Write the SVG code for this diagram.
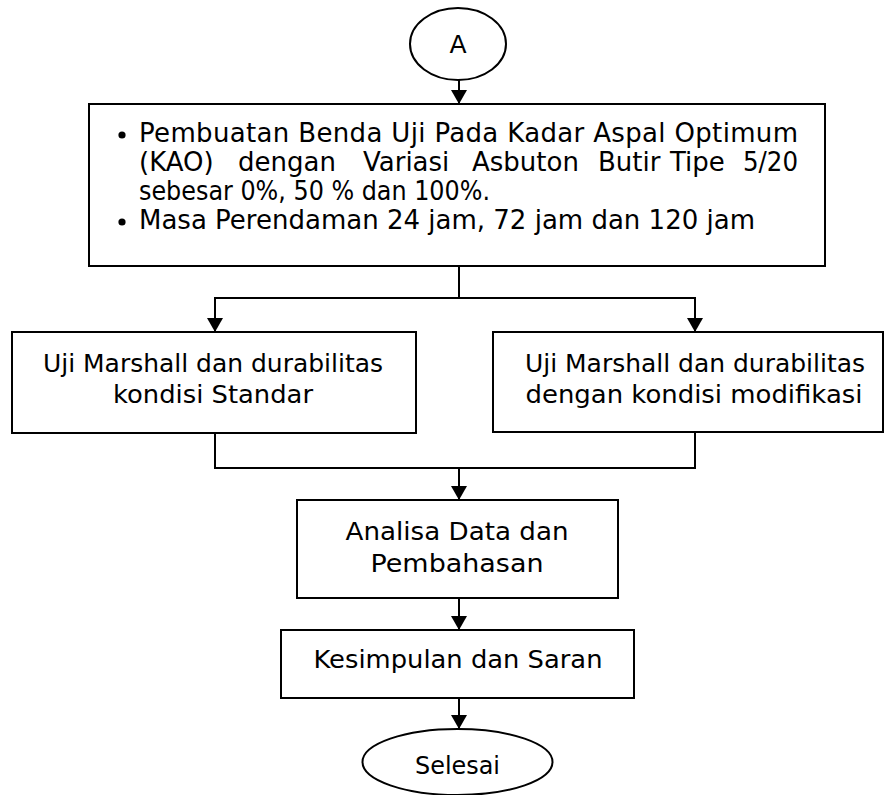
<svg xmlns="http://www.w3.org/2000/svg" width="887" height="795" viewBox="0 0 887 795">
<style>
  .box{fill:#fff;stroke:#000;stroke-width:2}
  .ln{fill:none;stroke:#000;stroke-width:2}
  text{font-family:"DejaVu Sans","Liberation Sans",sans-serif;fill:#000}
  .t{font-size:25px;text-anchor:middle}
  .m{font-size:26px}
</style>
<defs>
  <marker id="ah" markerUnits="userSpaceOnUse" markerWidth="14" markerHeight="16" refX="14" refY="8" orient="auto">
    <path d="M0,0 L14,8 L0,16 Z" fill="#000"/>
  </marker>
</defs>
<rect width="887" height="795" fill="#fff"/>
<g id="connectors">
  <line class="ln" x1="459" y1="80" x2="459" y2="104" marker-end="url(#ah)"/>
  <polyline class="ln" points="459,266 459,298"/>
  <polyline class="ln" points="459,298 215,298 215,332" marker-end="url(#ah)"/>
  <polyline class="ln" points="459,298 695,298 695,332" marker-end="url(#ah)"/>
  <polyline class="ln" points="215,433 215,468 695,468 695,432"/>
  <line class="ln" x1="459" y1="468" x2="459" y2="500" marker-end="url(#ah)"/>
  <line class="ln" x1="459" y1="598" x2="459" y2="630" marker-end="url(#ah)"/>
  <line class="ln" x1="459" y1="698" x2="459" y2="729" marker-end="url(#ah)"/>
</g>
<g id="start">
  <ellipse class="box" cx="458" cy="44" rx="48" ry="36"/>
  <text class="t" x="458" y="53" style="font-size:25px">A</text>
</g>
<g id="main">
  <rect class="box" x="89" y="104" width="736" height="162"/>
  <circle cx="122" cy="135" r="3.6" fill="#000"/>
  <circle cx="122" cy="222" r="3.6" fill="#000"/>
  <text class="m" x="139" y="142" textLength="659" lengthAdjust="spacing">Pembuatan Benda Uji Pada Kadar Aspal Optimum</text>
  <text class="m" x="139" y="171">(KAO)</text>
  <text class="m" x="238" y="171">dengan</text>
  <text class="m" x="363" y="171">Variasi</text>
  <text class="m" x="472" y="171">Asbuton</text>
  <text class="m" x="598" y="171">Butir</text>
  <text class="m" x="670" y="171">Tipe</text>
  <text class="m" x="743" y="171" textLength="55" lengthAdjust="spacingAndGlyphs">5/20</text>
  <text class="m" x="139" y="200" textLength="351" lengthAdjust="spacingAndGlyphs">sebesar 0%, 50 % dan 100%.</text>
  <text class="m" x="139" y="229" textLength="616" lengthAdjust="spacingAndGlyphs">Masa Perendaman  24 jam, 72 jam dan 120 jam</text>
</g>
<g id="standar">
  <rect class="box" x="12" y="332" width="404" height="101"/>
  <text class="t" x="213" y="372" textLength="340" lengthAdjust="spacingAndGlyphs">Uji Marshall dan durabilitas</text>
  <text class="t" x="213" y="403" textLength="200" lengthAdjust="spacingAndGlyphs">kondisi  Standar</text>
</g>
<g id="modifikasi">
  <rect class="box" x="493" y="332" width="390" height="100"/>
  <text class="t" x="695" y="372" textLength="340" lengthAdjust="spacingAndGlyphs">Uji Marshall dan durabilitas</text>
  <text class="t" x="694" y="403" textLength="337" lengthAdjust="spacingAndGlyphs">dengan kondisi  modifikasi</text>
</g>
<g id="analisa">
  <rect class="box" x="297" y="500" width="321" height="98"/>
  <text class="t" x="457" y="540" textLength="223" lengthAdjust="spacingAndGlyphs">Analisa Data dan</text>
  <text class="t" x="457" y="572" textLength="173" lengthAdjust="spacingAndGlyphs">Pembahasan</text>
</g>
<g id="kesimpulan">
  <rect class="box" x="281" y="630" width="353" height="68"/>
  <text class="t" x="458" y="668" textLength="289" lengthAdjust="spacingAndGlyphs">Kesimpulan dan Saran</text>
</g>
<g id="selesai">
  <ellipse class="box" cx="457.5" cy="762" rx="95" ry="33"/>
  <text class="t" x="457.5" y="774" textLength="85" lengthAdjust="spacingAndGlyphs">Selesai</text>
</g>
</svg>
